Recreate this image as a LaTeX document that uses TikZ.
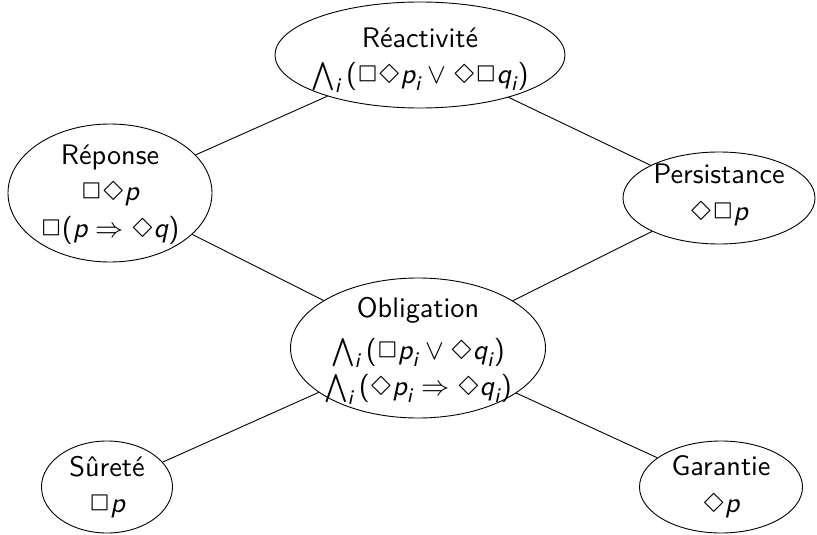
\documentclass[tikz,border=0pt]{standalone}
\usepackage{amsmath,latexsym}
\usetikzlibrary{shapes.geometric}
\newcommand{\vP}{\text{\itshape p}}
\newcommand{\vQ}{\text{\itshape q}}
\newcommand{\vI}{\text{\itshape i}}
\newcommand{\opar}{\text{(}}
\newcommand{\cpar}{\text{)}}
\tikzset{
  ell/.style={draw, ellipse, line width=0.9pt, inner sep=0pt},
  txt/.style={align=center, inner sep=0pt, scale=2.58, font=\sffamily\fontsize{10.95}{14.2}\selectfont},
  link/.style={line width=0.9pt}
}
\begin{document}
\begin{tikzpicture}[x=1pt,y=-1pt]
\useasboundingbox (0,0) rectangle (817,535);
% ellipses
\node[ell, minimum width=290pt, minimum height=106pt] (rea) at (420,55) {};
\node[ell, minimum width=204pt, minimum height=138pt] (rep) at (110,193) {};
\node[ell, minimum width=192pt, minimum height=92pt]  (per) at (719,198) {};
\node[ell, minimum width=255pt, minimum height=140pt] (obl) at (418,348) {};
\node[ell, minimum width=131pt, minimum height=92pt]  (sur) at (107,487) {};
\node[ell, minimum width=163pt, minimum height=92pt]  (gar) at (721,487) {};
% texts
\node[txt] (reat) at (420,60) {Réactivité\\ $\bigwedge_{\vI}\opar\Box\Diamond\vP_{\vI}\vee\Diamond\Box\vQ_{\vI}\cpar$};
\node[txt] (rept) at (110,194.5) {Réponse\\ $\Box\Diamond\vP$\\ $\Box\opar\vP\Rightarrow\Diamond\vQ\cpar$};
\node[txt] (pert) at (719,195) {Persistance\\ $\Diamond\Box\vP$};
\node[txt] (oblt) at (418,351) {Obligation\\[1.8pt] $\bigwedge_{\vI}\opar\Box\vP_{\vI}\vee\Diamond\vQ_{\vI}\cpar$\\ $\bigwedge_{\vI}\opar\Diamond\vP_{\vI}\Rightarrow\Diamond\vQ_{\vI}\cpar$};
\node[txt] (surt) at (107,487) {Sûreté\\ $\Box\vP$};
\node[txt] (gart) at (721,487) {Garantie\\ $\Diamond\vP$};
% links
\draw[link] (rea) -- (rep);
\draw[link] (rea) -- (per);
\draw[link] (rep) -- (obl);
\draw[link] (per) -- (obl);
\draw[link] (obl) -- (sur);
\draw[link] (obl) -- (gar);
\end{tikzpicture}
\end{document}
